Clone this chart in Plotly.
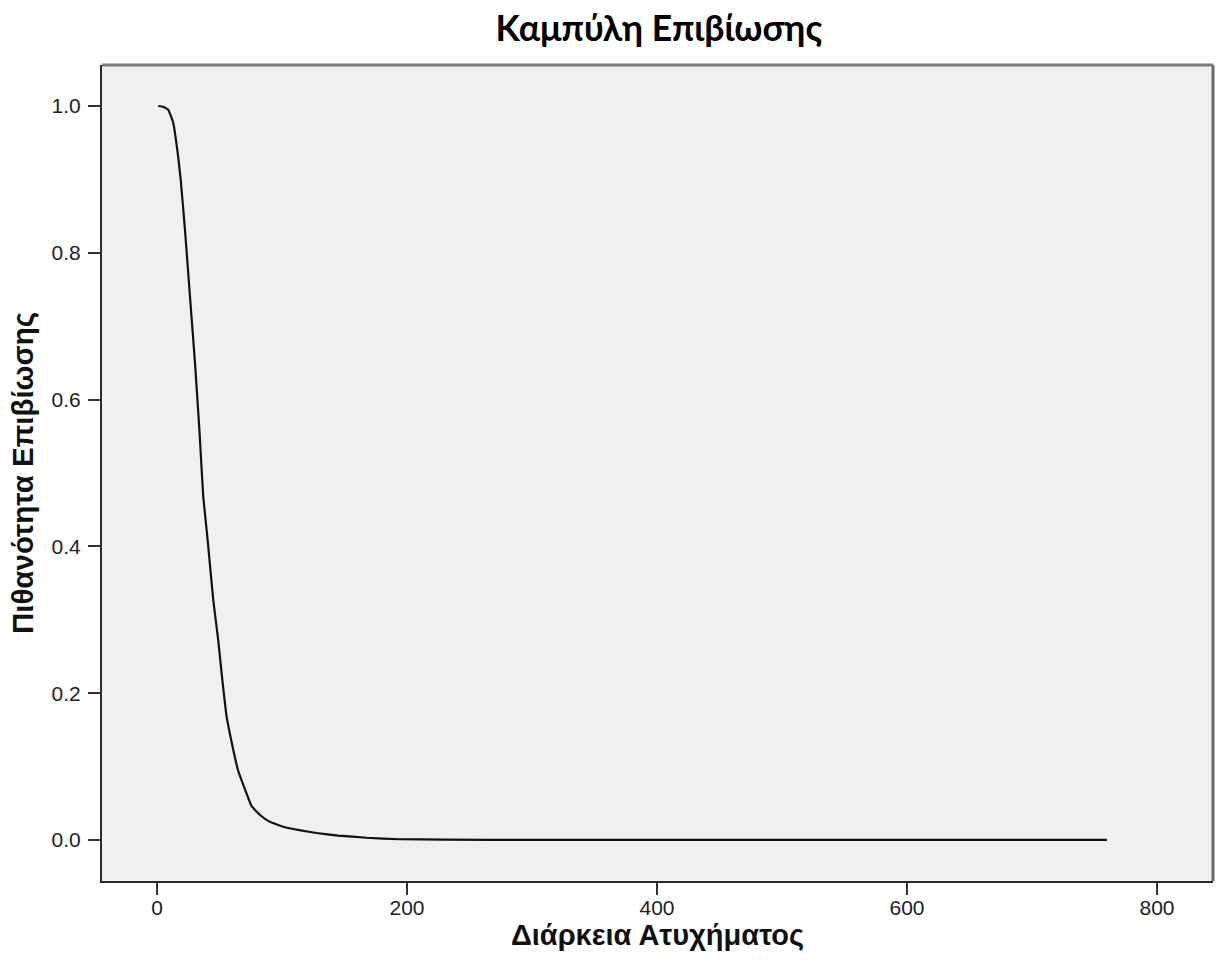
import plotly.graph_objects as go

# Survival curve values
time_days = [1, 5, 9, 13, 17, 19, 22.4, 26.4, 30.4, 33.9, 37, 40.5, 45, 49, 51.7,
             55.7, 61, 64.8, 70.4, 75.7, 82.4, 90, 101, 115, 127.7, 145, 167.7,
             194, 230, 300, 760]
survival = [1.0, 0.999, 0.995, 0.977, 0.93, 0.899, 0.831, 0.740, 0.65, 0.559, 0.468,
            0.409, 0.327, 0.272, 0.227, 0.168, 0.123, 0.095, 0.069, 0.046, 0.034,
            0.025, 0.018, 0.013, 0.0095, 0.006, 0.003, 0.001, 0.0005, 0.0, 0.0]

x_ticks = [0, 200, 400, 600, 800]
y_ticks = [0.0, 0.2, 0.4, 0.6, 0.8, 1.0]
y_tick_labels = ["0.0", "0.2", "0.4", "0.6", "0.8", "1.0"]

title_text = "Καμπύλη Επιβίωσης"
x_title = "Διάρκεια Ατυχήματος"
y_title = "Πιθανότητα Επιβίωσης"

fig = go.Figure()
fig.add_trace(go.Scatter(
    x=time_days, y=survival, mode="lines",
    line=dict(color="#111111", width=2.2, shape="spline", smoothing=0.3),
    showlegend=False, hoverinfo="x+y",
))

fig.update_layout(
    width=1220, height=973,
    paper_bgcolor="white",
    plot_bgcolor="#f0f0f0",
    margin=dict(l=102, r=7, t=65, b=92),
    title=dict(text="<b>" + title_text + "</b>", x=0.540, xanchor="center",
               y=0.971, yanchor="middle",
               font=dict(family="Lato, Open Sans, sans-serif", size=35.5, color="black")),
    font=dict(family="Liberation Sans, Arial, sans-serif", color="#222222"),
    shapes=[
        dict(type="line", xref="paper", yref="paper", x0=0, x1=1, y0=1, y1=1,
             line=dict(color="#7a7a7a", width=3)),
        dict(type="line", xref="paper", yref="paper", x0=1, x1=1, y0=0, y1=1,
             line=dict(color="#6a6a6a", width=3)),
    ],
)

fig.update_xaxes(
    range=[-44, 844.8], tickvals=x_ticks, ticktext=[str(v) for v in x_ticks],
    ticks="outside", ticklen=12, tickwidth=2, tickcolor="#333333",
    tickfont=dict(size=21, color="#222222"), ticklabelstandoff=-5,
    showgrid=False, zeroline=False,
    showline=True, linecolor="#2a2a2a", linewidth=2, mirror=False,
    title=dict(text="<b>" + x_title + "</b>", standoff=0,
               font=dict(size=29, color="#111111")),
)
fig.update_yaxes(
    range=[-0.0559, 1.0559], tickvals=y_ticks, ticktext=y_tick_labels,
    ticks="outside", ticklen=12, tickwidth=2, tickcolor="#333333",
    tickfont=dict(size=21, color="#222222"), ticklabelstandoff=3,
    showgrid=False, zeroline=False,
    showline=True, linecolor="#2a2a2a", linewidth=2, mirror=False,
    title=dict(text="<b>" + y_title + "</b>", standoff=9,
               font=dict(size=29.5, color="#111111")),
)

fig.write_html("out.html")
